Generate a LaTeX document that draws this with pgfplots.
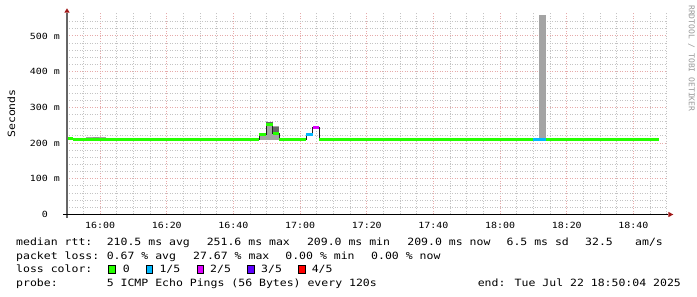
\documentclass[border=0pt]{standalone}
\usepackage{pgfplots}
\pgfplotsset{compat=1.18}
\usepackage{fontspec}
\setmainfont{DejaVu Sans Mono}
\newfontfamily\legfont[FakeStretch=1.15]{DejaVu Sans Mono}
\newfontfamily\tickfont[FakeStretch=1.17]{DejaVu Sans Mono}
\newfontfamily\wmfont{DejaVu Sans Mono}
\definecolor{lc0}{HTML}{26FF00}
\definecolor{lc1}{HTML}{00B8FF}
\definecolor{lc2}{HTML}{DD00FF}
\definecolor{lc3}{HTML}{5E00FF}
\definecolor{lc4}{HTML}{FF0000}
\definecolor{smokeL}{HTML}{A4A4A4}
\definecolor{smokeD}{HTML}{666666}
\definecolor{medline}{HTML}{202020}
\definecolor{gridminor}{HTML}{C4C4C4}
\definecolor{gridmajor}{HTML}{E6AAAA}
\definecolor{arrowred}{HTML}{A01818}
\begin{document}
\begin{tikzpicture}[x=1pt,y=1pt]
\path[use as bounding box] (0,0) rectangle (697,297);
\begin{axis}[
  at={(67pt,82.5pt)}, anchor=south west,
  scale only axis, width=600pt, height=201.2pt,
  xmin=0.07, xmax=180.07, ymin=0, ymax=563.5,
  axis line style={draw=none},
  xtick={10,30,50,70,90,110,130,150,170},
  xticklabels={16:00,16:20,16:40,17:00,17:20,17:40,18:00,18:20,18:40},
  minor xtick={5,15,20,25,35,40,45,55,60,65,75,80,85,95,100,105,115,120,125,135,140,145,155,160,165,175,180},
  ytick={0,100,200,300,400,500},
  yticklabels={0\hphantom{xx},100 m,200 m,300 m,400 m,500 m},
  minor ytick={20,40,60,80,120,140,160,180,220,240,260,280,320,340,360,380,420,440,460,480,520,540},
  major tick length=0pt, minor tick length=0pt,
  grid=both,
  major grid style={gridmajor, line width=1pt, dash pattern=on 1pt off 1.5pt},
  minor grid style={gridminor, line width=1pt, dash pattern=on 1pt off 1.5pt},
  xticklabel style={font=\tickfont\fontsize{8.5}{10}\selectfont, anchor=north, inner sep=0pt, yshift=-7pt},
  yticklabel style={font=\tickfont\fontsize{8.5}{10}\selectfont, anchor=east, inner sep=0pt, xshift=-7pt},
  unbounded coords=jump,
]
% smoke
\addplot[fill=smokeL, draw=none] coordinates {(5.8,210) (5.8,217) (11.8,217) (11.8,210)} -- cycle;
\addplot[fill=smokeD!70, draw=none] coordinates {(7.8,215) (7.8,218) (9.8,218) (9.8,215)} -- cycle;
\addplot[fill=smokeL, draw=none] coordinates {(57.8,209) (57.8,227) (59.8,227) (59.8,209)} -- cycle;
\addplot[fill=smokeL, draw=none] coordinates {(59.8,209) (59.8,260) (61.8,260) (61.8,209)} -- cycle;
\addplot[fill=smokeD, draw=none] coordinates {(59.8,254) (59.8,260) (61.8,260) (61.8,254)} -- cycle;
\addplot[fill=smokeL, draw=none] coordinates {(61.8,209) (61.8,247) (63.8,247) (63.8,209)} -- cycle;
\addplot[fill=smokeD, draw=none] coordinates {(61.8,229) (61.8,245) (63.8,245) (63.8,229)} -- cycle;
\addplot[fill=smokeL, draw=none] coordinates {(141.8,210) (141.8,559) (143.8,559) (143.8,210)} -- cycle;
% median (black)
\addplot[const plot, medline, line width=0.9pt] coordinates {
 (0.07,214) (1.8,209) (7.8,210) (11.8,209) (57.8,224) (59.8,252) (61.8,226) (63.8,209)
 (71.8,224) (73.8,244) (75.8,209) (177.8,209)};
% loss 0
\addplot[lc0, line width=2.9pt, line cap=butt] coordinates {
 (0.07,214) (1.8,214) (1.8,nan) (1.8,209) (7.8,209) (7.8,nan) (7.8,210) (11.8,210) (11.8,nan)
 (11.8,209) (57.8,209) (57.8,nan) (57.8,224) (59.8,224) (59.8,nan) (59.8,252) (61.8,252) (61.8,nan)
 (61.8,226) (63.8,226) (63.8,nan) (63.8,209) (71.8,209) (71.8,nan) (75.8,209) (139.8,209) (139.8,nan)
 (143.8,209) (177.8,209)};
% loss 1/5
\addplot[lc1, line width=2.9pt, line cap=butt] coordinates {
 (71.8,224) (73.8,224) (73.8,nan) (139.8,209) (143.8,209)};
% loss 2/5
\addplot[lc2, line width=2.9pt, line cap=butt] coordinates {(73.8,244) (75.8,244)};
\end{axis}
% axes lines and arrows
\draw[black!60, line width=1.6pt] (67,79) -- (67,284.3);
\draw[black, line width=1.3pt] (63,82.5) -- (668.3,82.5);
\fill[arrowred] (64.3,284.3) -- (69.7,284.3) -- (67,288.7) -- cycle;
\fill[arrowred] (668.3,85.2) -- (668.3,79.8) -- (673.3,82.5) -- cycle;
% labels
\node[rotate=90, font=\legfont\fontsize{10}{12}\selectfont] at (11.5,183.5) {Seconds};
\node[rotate=-90, font=\wmfont\fontsize{8}{9}\selectfont, text=black!40] at (691.5,238.7) {RRDTOOL / TOBI OETIKER};
\begin{scope}[every node/.style={anchor=base west, inner sep=0pt, font=\legfont\fontsize{10}{12}\selectfont}]
\node at (16,51.3) {median rtt:};
\node at (106.6,51.3) {210.5 ms avg};
\node at (206.6,51.3) {251.6 ms max};
\node at (306.8,51.3) {209.0 ms min};
\node at (407.2,51.3) {209.0 ms now};
\node at (506.4,51.3) {6.5 ms sd};
\node at (585,51.3) {32.5};
\node at (635,51.3) {am/s};
\node at (16,37.5) {packet loss:};
\node at (106.6,37.5) {0.67 \% avg};
\node at (193,37.5) {27.67 \% max};
\node at (285.2,37.5) {0.00 \% min};
\node at (371,37.5) {0.00 \% now};
\node at (16,24) {loss color:};
\node at (122.6,24) {0};
\node at (159.3,24) {1/5};
\node at (210,24) {2/5};
\node at (261,24) {3/5};
\node at (311.6,24) {4/5};
\node at (16,10.3) {probe:};
\node at (106.6,10.3) {5 ICMP Echo Pings (56 Bytes) every 120s};
\node at (477.6,10.3) {end: Tue Jul 22 18:50:04 2025};
\end{scope}
\filldraw[fill=lc0, draw=black, line width=0.8pt] (108.5,23.6) rectangle (115,31.4);
\filldraw[fill=lc1, draw=black, line width=0.8pt] (145.9,23.6) rectangle (152.4,31.4);
\filldraw[fill=lc2, draw=black, line width=0.8pt] (196.9,23.6) rectangle (203.4,31.4);
\filldraw[fill=lc3, draw=black, line width=0.8pt] (247.5,23.6) rectangle (254,31.4);
\filldraw[fill=lc4, draw=black, line width=0.8pt] (298.5,23.6) rectangle (305,31.4);
\end{tikzpicture}
\end{document}
